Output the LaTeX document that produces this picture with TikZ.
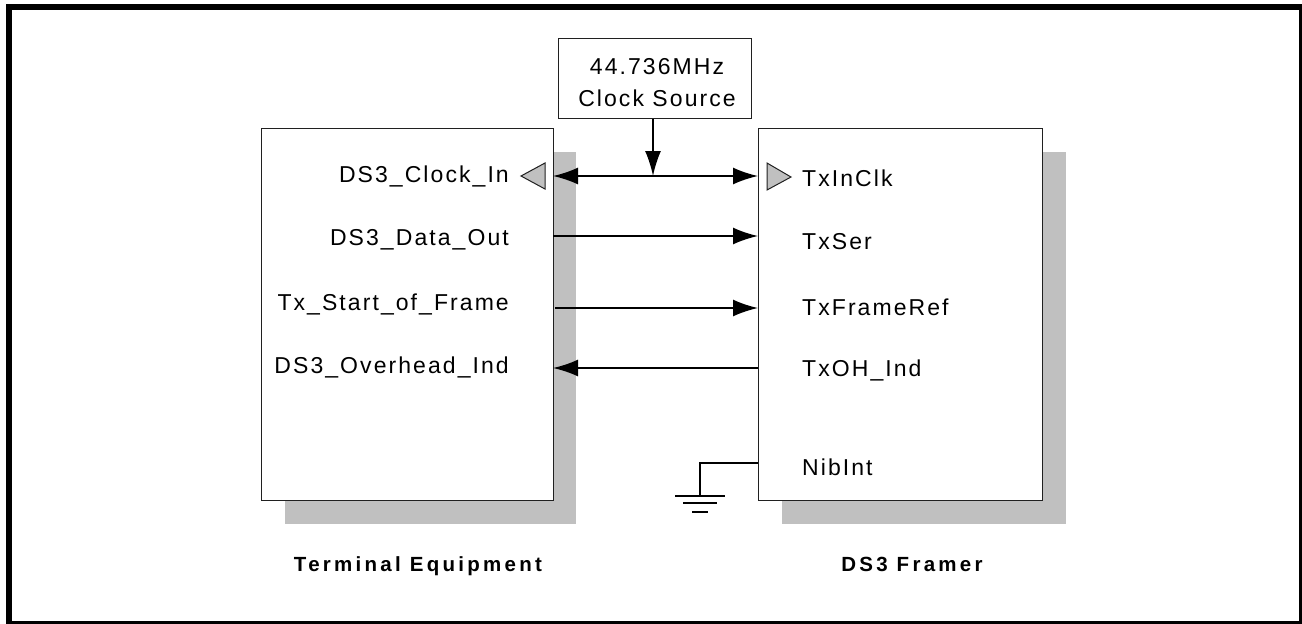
\documentclass[tikz,border=0pt]{standalone}
\usepackage{fontspec}
\setmainfont{Liberation Sans}
\newfontfamily\lblfont{Liberation Sans}[LetterSpace=9]
\newfontfamily\bldfont{Liberation Sans}[LetterSpace=16]
\usetikzlibrary{arrows.meta}
\definecolor{shade}{HTML}{C0C0C0}
\definecolor{edge}{HTML}{202020}
\begin{document}
\begin{tikzpicture}[x=1pt,y=-1pt,
  box/.style={draw=edge,line width=1.3pt,fill=white,inner sep=0pt},
  shadowbox/.style={fill=shade,draw=none,inner sep=0pt},
  lbl/.style={font=\lblfont\fontsize{23}{27}\selectfont,inner sep=0pt},
  ttl/.style={font=\bldfont\bfseries\fontsize{20.5}{24}\selectfont,inner sep=0pt},
  conn/.style={line width=1.8pt,draw=black},
  arr/.style={conn,-{Latex[length=25pt,width=17pt]}},
  pin/.style={fill=shade,draw=edge,line width=1pt},
  gnd/.style={line width=1.8pt}]
\useasboundingbox (0,0) rectangle (1302,624);
% outer frame
\draw[line width=6pt] (9,7) rectangle (1302,624);
% shadows
\node[shadowbox,minimum width=291pt,minimum height=372pt,anchor=north west] (tesh) at (285,152) {};
\node[shadowbox,minimum width=284pt,minimum height=372pt,anchor=north west] (frsh) at (782,152) {};
% boxes
\node[box,minimum width=292pt,minimum height=372pt,anchor=north west] (te) at (261,128) {};
\node[box,minimum width=284pt,minimum height=372pt,anchor=north west] (fr) at (758,128) {};
\node[box,minimum width=193pt,minimum height=80pt,anchor=south west] (clk) at (558,119) {};
\node[lbl] (clkA) at (657,67) {44.736MHz};
\node[lbl] (clkB) at (657,98) {Clock Source};
% left labels
\node[lbl,anchor=east] (l1) at (509,176) {DS3\_Clock\_In};
\node[lbl,anchor=east] (l2) at (509,240) {DS3\_Data\_Out};
\node[lbl,anchor=east] (l3) at (509,304) {Tx\_Start\_of\_Frame};
\node[lbl,anchor=east] (l4) at (509,367) {DS3\_Overhead\_Ind};
% right labels
\node[lbl,anchor=west] (r1) at (802,178) {TxInClk};
\node[lbl,anchor=west] (r2) at (802,242) {TxSer};
\node[lbl,anchor=west] (r3) at (802,307) {TxFrameRef};
\node[lbl,anchor=west] (r4) at (802,370) {TxOH\_Ind};
\node[lbl,anchor=west] (r5) at (802,467) {NibInt};
% titles
\node[ttl,anchor=base] (t1) at (418,571) {Terminal Equipment};
\node[ttl,anchor=base] (t2) at (912,571) {DS3 Framer};
% pin triangles
\draw[pin] (521,176) -- (545,163) -- (545,189) -- cycle;
\draw[pin] (767,163) -- (791,177) -- (767,190) -- cycle;
% connection points
\coordinate (cl) at (553,176);
\coordinate (cr) at (758,176);
\coordinate (cm) at (653,176);
\coordinate (ct) at (653,119);
\coordinate (d1) at (553,236);
\coordinate (d2) at (758,236);
\coordinate (f1) at (555,308);
\coordinate (f2) at (758,308);
\coordinate (o1) at (758,368);
\coordinate (o2) at (553,368);
\coordinate (n1) at (758,463);
\coordinate (n2) at (700,463);
\coordinate (g0) at (700,496);
% connectors
\draw[conn,{Latex[length=25pt,width=17pt]}-{Latex[length=25pt,width=17pt]}] (cl) -- (cr);
\draw[conn,-{Latex[length=25pt,width=16pt]}] (ct) -- (cm);
\draw[arr] (d1) -- (d2);
\draw[arr] (f1) -- (f2);
\draw[arr] (o1) -- (o2);
\draw[conn] (n1) -- (n2) -- (g0);
% ground symbol
\draw[gnd] ([xshift=-25pt]g0) -- ([xshift=25pt]g0);
\draw[gnd] ([xshift=-17pt,yshift=-7pt]g0) -- ([xshift=17pt,yshift=-7pt]g0);
\draw[gnd] ([xshift=-8pt,yshift=-16pt]g0) -- ([xshift=8pt,yshift=-16pt]g0);
\end{tikzpicture}
\end{document}
